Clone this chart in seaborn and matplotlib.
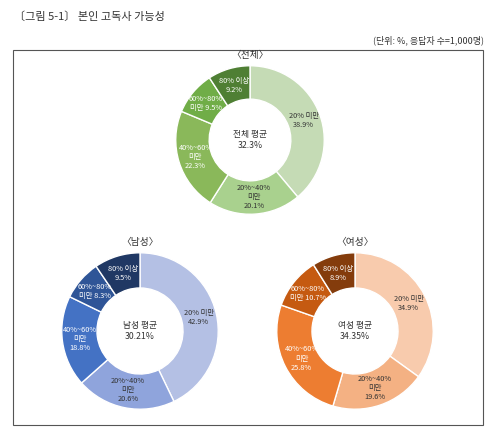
import numpy as np
import seaborn as sns
import matplotlib.pyplot as plt
import matplotlib.patches as mpatches

sns.set_theme(style="white")
plt.rcParams['font.family'] = ['Noto Sans CJK KR', 'DejaVu Sans']

categories = ['20% 미만', '20%~40%\n미만', '40%~60%\n미만', '60%~80%\n미만', '80% 이상']
total_vals = [38.9, 20.1, 22.3, 9.5, 9.2]
male_vals = [42.9, 20.6, 18.8, 8.3, 9.5]
female_vals = [34.9, 19.6, 25.8, 10.7, 8.9]
total_avg, male_avg, female_avg = '32.3%', '30.21%', '34.35%'

green = ['#c5dbb5', '#a9d18e', '#8ab85a', '#70ad47', '#4f7f34']
blue = ['#b4c0e4', '#8fa4dc', '#4472c4', '#2f5597', '#203864']
orange = ['#f8cbad', '#f4b183', '#ed7d31', '#c55a11', '#843c0c']

# label variants per slice (line breaks as in the picture)
total_labels = ['20% 미만\n38.9%', '20%~40%\n미만\n20.1%', '40%~60%\n미만\n22.3%', '60%~80%\n미만 9.5%', '80% 이상\n9.2%']
male_labels = ['20% 미만\n42.9%', '20%~40%\n미만\n20.6%', '40%~60%\n미만\n18.8%', '60%~80%\n미만 8.3%', '80% 이상\n9.5%']
female_labels = ['20% 미만\n34.9%', '20%~40%\n미만\n19.6%', '40%~60%\n미만\n25.8%', '60%~80%\n미만 10.7%', '80% 이상\n8.9%']

fig = plt.figure(figsize=(5, 4.37), dpi=100)
W, H = 500, 437

fig.text(14 / W, 1 - 17 / H, '〔그림 5-1〕 본인 고독사 가능성', fontsize=8, color='#333333', va='center')
fig.text(484 / W, 1 - 40 / H, '(단위: %, 응답자 수=1,000명)', fontsize=6.5, color='#333333', va='center', ha='right')
fig.patches.append(mpatches.Rectangle((13 / W, 1 - 425 / H), 470 / W, 375 / H, transform=fig.transFigure,
                                      fill=False, edgecolor='#555555', linewidth=0.8))


def donut(cx, cy, r, vals, labels, colors, center, title):
    ax = fig.add_axes([(cx - r) / W, 1 - (cy + r) / H, 2 * r / W, 2 * r / H])
    ax.pie(vals, colors=colors, startangle=90, counterclock=False,
           wedgeprops=dict(width=0.45, edgecolor='white', linewidth=1))
    ax.set_xlim(-1.01, 1.01)
    ax.set_ylim(-1.01, 1.01)
    ax.set_aspect('equal')
    ang = 90 - (np.cumsum(vals) - np.array(vals) / 2) * 3.6
    for i, (a, lab) in enumerate(zip(ang, labels)):
        c = '#333333' if i < 2 else 'white'
        ax.text(0.77 * np.cos(np.radians(a)), 0.77 * np.sin(np.radians(a)), lab,
                ha='center', va='center', fontsize=5.3, color=c, linespacing=1.2)
    ax.text(0, 0, center, ha='center', va='center', fontsize=6.3, color='#333333')
    fig.text(cx / W, 1 - (cy - r - 10) / H, title, ha='center', va='center', fontsize=7, color='#333333')


donut(250, 140, 75, total_vals, total_labels, green, '전체 평균\n' + total_avg, '〈전체〉')
donut(140, 331, 79, male_vals, male_labels, blue, '남성 평균\n' + male_avg, '〈남성〉')
donut(355, 331, 79, female_vals, female_labels, orange, '여성 평균\n' + female_avg, '〈여성〉')

fig.savefig('out.png', dpi=100)
